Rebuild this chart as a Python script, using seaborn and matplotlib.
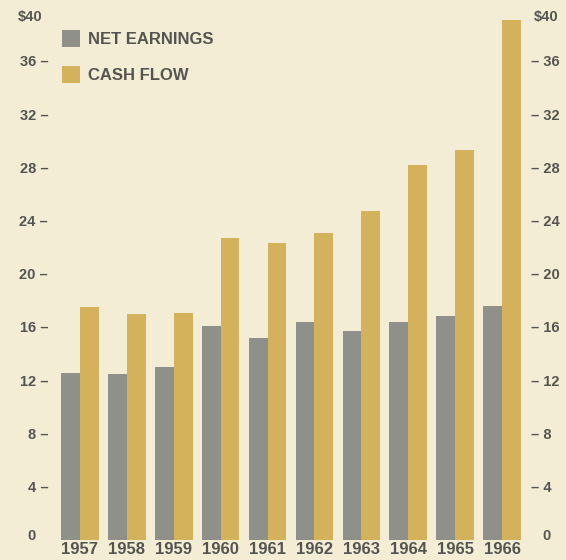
import matplotlib
matplotlib.use("Agg")
import matplotlib.pyplot as plt
import matplotlib.transforms as mtransforms
import seaborn as sns
import pandas as pd

years = ["1957", "1958", "1959", "1960", "1961", "1962", "1963", "1964", "1965", "1966"]
net_earnings = [12.5, 12.45, 13.0, 16.05, 15.2, 16.4, 15.7, 16.35, 16.8, 17.55]
cash_flow = [17.5, 17.0, 17.05, 22.7, 22.3, 23.05, 24.7, 28.2, 29.3, 39.1]
series_names = ["NET EARNINGS", "CASH FLOW"]
tick_values = [4, 8, 12, 16, 20, 24, 28, 32, 36]

BG = "#f3edd6"
GRAY = "#8f908a"
GOLD = "#d4b25c"
TXT = "#55554f"
FONT = "Liberation Sans"

df = pd.DataFrame({
    "year": years * 2,
    "value": net_earnings + cash_flow,
    "series": [series_names[0]] * len(years) + [series_names[1]] * len(years),
})

sns.set_style("white")
plt.rcParams["font.family"] = [FONT, "DejaVu Sans"]

fig = plt.figure(figsize=(5.66, 5.60), dpi=100, facecolor=BG)
W, H = 566, 560
left, right = 56.5, 525.5
top, bottom = 7.8, 539.6
ax = fig.add_axes([left / W, (H - bottom) / H, (right - left) / W, (bottom - top) / H])
ax.set_facecolor(BG)

sns.barplot(data=df, x="year", y="value", hue="series", order=years,
            hue_order=series_names, palette=[GRAY, GOLD], width=0.8, gap=0,
            saturation=1, edgecolor="none", linewidth=0, ax=ax)

ax.set_xlim(-0.5, len(years) - 0.5)
ax.set_ylim(0, 40)
for s in ax.spines.values():
    s.set_visible(False)
ax.set_xlabel("")
ax.set_ylabel("")

# x tick labels
ax.tick_params(axis="x", length=0, pad=2)
ax.set_xticks(range(len(years)))
ax.set_xticklabels(years, fontsize=12, fontweight="bold", color=TXT)

# left y ticks
ax.set_yticks(tick_values)
ax.set_yticklabels([f"{v} \u2013" for v in tick_values], fontsize=10.5, fontweight="bold", color=TXT)
ax.tick_params(axis="y", length=0, pad=6)

# right y ticks
ax2 = ax.twinx()
ax2.set_ylim(ax.get_ylim())
ax2.set_yticks(tick_values)
ax2.set_yticklabels([f"\u2013 {v}" for v in tick_values], fontsize=10.5, fontweight="bold", color=TXT)
ax2.tick_params(axis="y", length=0, pad=4)
for s in ax2.spines.values():
    s.set_visible(False)

# top and bottom labels
trans_l = mtransforms.blended_transform_factory(fig.transFigure, ax.transData)
ax.text(42 / W, 39.3, "\\$40", transform=trans_l, ha="right", va="center",
        fontsize=10.5, fontweight="bold", color=TXT)
ax.text(36 / W, 0.3, "0", transform=trans_l, ha="right", va="center",
        fontsize=10.5, fontweight="bold", color=TXT)
ax.text(534 / W, 39.3, "\\$40", transform=trans_l, ha="left", va="center",
        fontsize=10.5, fontweight="bold", color=TXT)
ax.text(542 / W, 0.3, "0", transform=trans_l, ha="left", va="center",
        fontsize=10.5, fontweight="bold", color=TXT)

# legend
handles, labels = ax.get_legend_handles_labels()
ax.legend(handles, labels, loc="upper left", bbox_to_anchor=(0.012, 0.958),
          frameon=False, borderpad=0, borderaxespad=0,
          handlelength=1.1, handleheight=1.15, handletextpad=0.45,
          labelspacing=1.15, prop={"family": FONT, "weight": "bold", "size": 12},
          labelcolor=TXT)

fig.savefig("out.png", dpi=100, facecolor=BG)
